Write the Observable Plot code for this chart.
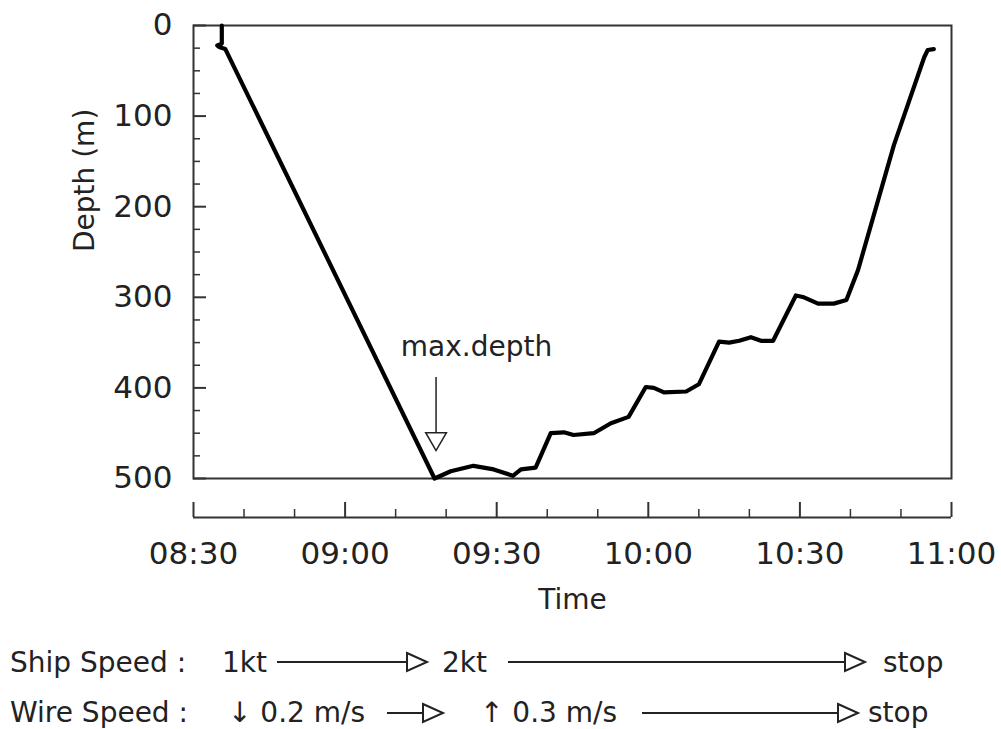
<!DOCTYPE html>
<html>
<head>
<meta charset="utf-8">
<script src="https://cdn.jsdelivr.net/npm/d3@7"></script>
<script src="https://cdn.jsdelivr.net/npm/@observablehq/plot@0.6"></script>
<style>
  html, body { margin: 0; padding: 0; background: #fff; }
  body { font-family: "DejaVu Sans", sans-serif; width: 1001px; height: 729px; overflow: hidden; }
  #chart svg, #legend svg { display: block; }
</style>
</head>
<body>
<div id="chart"></div>
<div id="legend"></div>
<script>
// ---- data ----
const times = [
  "08:35:36", "08:35:36", "08:34:42", "08:35:12", "08:36:18",
  "09:17:42", "09:20:54", "09:25:24", "09:29:24", "09:33:12",
  "09:34:48", "09:37:42", "09:40:42", "09:43:18", "09:45:12",
  "09:49:12", "09:52:36", "09:56:06", "09:59:30", "10:01:06",
  "10:03:06", "10:07:30", "10:10:00", "10:14:00", "10:16:00",
  "10:18:00", "10:20:18", "10:22:18", "10:24:42", "10:29:12",
  "10:30:48", "10:33:36", "10:36:42", "10:39:12", "10:41:30",
  "10:48:36", "10:54:36", "10:55:18", "10:56:30"
];
const depths = [
  0, 20, 22, 24, 26,
  500, 492, 486, 490, 497,
  490, 488, 450, 449, 452,
  450, 439, 432, 399, 400,
  405, 404, 396, 349, 350,
  348, 344, 348, 348, 298,
  300, 307, 307, 303, 270,
  132, 35, 27, 26
];
const xTickLabels = ["08:30", "09:00", "09:30", "10:00", "10:30", "11:00"];
const yTickLabels = [0, 100, 200, 300, 400, 500];
const xLabel = "Time";
const yLabel = "Depth (m)";

const annotationText = "max.depth";
const annotationTextTime = "09:26:00";
const annotationTextDepth = 355;
const annotationArrowTime = "09:18:00";
const annotationArrowDepths = [388, 449];
const annotationHeadDepth = 456;

const shipSpeedTitle = "Ship Speed :";
const shipSpeedSteps = ["1kt", "2kt", "stop"];
const wireSpeedTitle = "Wire Speed :";
const wireSpeedSteps = ["\u2193 0.2 m/s", "\u2191 0.3 m/s", "stop"];

// ---- build ----
const parse = s => new Date(`2000-01-01T${s.length === 5 ? s + ":00" : s}Z`);
const data = times.map((t, i) => ({time: parse(t), depth: depths[i]}));
const xMajor = xTickLabels.map(parse);
const xMinor = d3.utcMinute.every(10)
  .range(parse(xTickLabels[0]), new Date(+parse(xTickLabels[xTickLabels.length - 1]) + 1))
  .filter(d => d.getUTCMinutes() % 30 !== 0);
const yMinor = d3.range(0, 501, 25).filter(d => d % 100 !== 0);

const W = 1001, H = 630, mL = 193, mR = 50, mT = 25, mB = 152;
const plotW = W - mL - mR, plotH = H - mT - mB;
const axisGap = 39;
const ink = "#222";

const arrow = {
  time: parse(annotationArrowTime),
  d1: annotationArrowDepths[0],
  d2: annotationArrowDepths[1],
  head: annotationHeadDepth
};

const chart = Plot.plot({
  width: W,
  height: H,
  marginLeft: mL,
  marginRight: mR,
  marginTop: mT,
  marginBottom: mB,
  style: {fontFamily: "DejaVu Sans, sans-serif", color: ink, background: "white"},
  x: {type: "utc", domain: [xMajor[0], xMajor[xMajor.length - 1]], axis: null},
  y: {domain: [0, 500], reverse: true, axis: null},
  marks: [
    Plot.frame({stroke: "#333", strokeWidth: 2}),
    // y ticks (inward)
    Plot.tickY(yTickLabels, {y: d => d, insetRight: plotW - 13, stroke: "#333", strokeWidth: 2}),
    Plot.tickY(yMinor, {y: d => d, insetRight: plotW - 7, stroke: "#333", strokeWidth: 1.5}),
    Plot.axisY(yTickLabels, {tickSize: 0, tickPadding: 21, fontSize: 31, label: null}),
    // detached x axis
    Plot.ruleY([500], {dy: axisGap, stroke: "#333", strokeWidth: 2}),
    Plot.tickX(xMajor, {x: d => d, dy: axisGap, insetTop: plotH - 15, stroke: "#333", strokeWidth: 2}),
    Plot.tickX(xMinor, {x: d => d, dy: axisGap, insetTop: plotH - 8, stroke: "#333", strokeWidth: 1.5}),
    Plot.axisX(xMajor, {tickSize: 0, tickPadding: 63, fontSize: 31, tickFormat: d3.utcFormat("%H:%M"), label: null}),
    Plot.text([xLabel], {frameAnchor: "bottom", dy: 130, fontSize: 28, fill: ink}),
    Plot.text([yLabel], {frameAnchor: "left", dx: -108, rotate: -90, fontSize: 28, fill: ink}),
    // depth trace
    Plot.line(data, {x: "time", y: "depth", stroke: "black", strokeWidth: 4.2, strokeLinejoin: "round", strokeLinecap: "round"}),
    // annotation
    Plot.link([arrow], {x1: "time", x2: "time", y1: "d1", y2: "d2", stroke: ink, strokeWidth: 1.5}),
    Plot.dot([arrow], {x: "time", y: "head", symbol: "triangle", rotate: 180, r: 7.7, fill: "white", stroke: ink, strokeWidth: 1.5}),
    Plot.text([annotationText], {x: () => parse(annotationTextTime), y: () => annotationTextDepth, fontSize: 28, fill: ink})
  ]
});
document.getElementById("chart").appendChild(chart);

// ---- speed legend below the chart ----
const lg = d3.select("#legend").append("svg")
  .attr("width", W).attr("height", 729 - H)
  .style("font-family", "DejaVu Sans, sans-serif")
  .style("font-size", "28px");

function row(baseline, lineY, title, steps, textX, arrows) {
  lg.append("text").attr("x", 10).attr("y", baseline).attr("fill", ink).text(title);
  steps.forEach((s, i) => {
    lg.append("text").attr("x", textX[i]).attr("y", baseline).attr("fill", ink).text(s);
  });
  arrows.forEach(([x0, x1]) => {
    const hl = 20, hh = 9;
    lg.append("line").attr("x1", x0).attr("x2", x1 - hl).attr("y1", lineY).attr("y2", lineY)
      .attr("stroke", ink).attr("stroke-width", 2);
    lg.append("path")
      .attr("d", `M${x1 - hl},${lineY - hh}L${x1},${lineY}L${x1 - hl},${lineY + hh}Z`)
      .attr("fill", "white").attr("stroke", ink).attr("stroke-width", 2);
  });
}
row(672 - H, 662 - H, shipSpeedTitle, shipSpeedSteps, [222, 442, 883], [[277, 427], [508, 865]]);
row(722 - H, 713 - H, wireSpeedTitle, wireSpeedSteps, [228, 480, 868], [[387, 443], [642, 858]]);
</script>
</body>
</html>
